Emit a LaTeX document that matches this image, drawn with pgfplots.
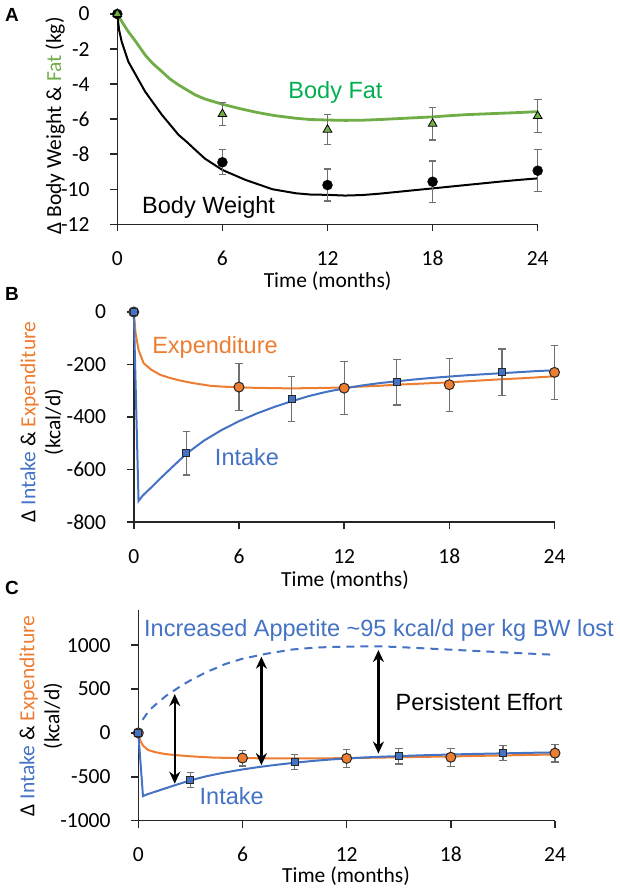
\documentclass[border=0pt]{standalone}
\usepackage{fontspec}
\setmainfont{Carlito}
\newfontfamily\arial{Liberation Sans}
\usepackage{pgfplots}
\pgfplotsset{compat=1.18}
\usetikzlibrary{arrows.meta}

\definecolor{xlblue}{HTML}{4472C4}
\definecolor{xlorange}{HTML}{ED7D31}
\definecolor{xlgreen}{HTML}{70AD47}
\definecolor{fatgreen}{HTML}{00B050}
\definecolor{errgray}{HTML}{707070}

\newcommand{\tickfont}{\fontsize{21.5}{25}\selectfont}
\newcommand{\notefont}{\arial\fontsize{23.5}{26}\selectfont}

\tikzset{effort/.style={{Stealth[length=12pt,width=11pt]}-{Stealth[length=12pt,width=11pt]}, line width=2.2pt}}

\pgfplotsset{
  panel/.style={
    scale only axis, clip=false,
    axis x line*=bottom, axis y line*=left,
    axis line style={line width=1.5pt, black!85, -},
    tick align=outside, major tick length=7pt,
    major tick style={line width=1.5pt, black!85},
    xmin=0, xmax=24, xtick={0,6,12,18,24},
    ticklabel style={font=\tickfont, inner sep=0pt},
    xticklabel style={anchor=base, yshift=-34pt},
    yticklabel style={anchor=east, xshift=-20.6pt},
    /pgf/number format/assume math mode=true,
    /pgf/number format/set thousands separator={},
  },
  errs/.style={
    error bars/.cd, y dir=both, y explicit,
    error bar style={line width=1.2pt, errgray},
    error mark options={rotate=90, mark size=3.8pt, line width=1.2pt, errgray},
  },
  wmark/.style={only marks, mark=*, mark size=5pt, mark options={fill=black, draw=black}},
  fmark/.style={only marks, mark=triangle*, mark size=5pt, mark options={fill=xlgreen, draw=black, line width=0.8pt}},
  emark/.style={only marks, mark=*, mark size=5pt, mark options={fill=xlorange, draw=black!85, line width=1pt}},
  imark/.style={only marks, mark=square*, mark size=3.5pt, mark options={fill=xlblue, draw=black!85, line width=1pt}},
}

\begin{document}
\begin{tikzpicture}
\useasboundingbox (0pt,0pt) rectangle (619pt,-891pt);

% ---------- A ----------
\begin{axis}[panel, at={(117.3pt,-224.3pt)}, anchor=south west,
  width=420.4pt, height=210.3pt, ymin=-12, ymax=0, ytick={-12,-10,...,0}]
\addplot[black, line width=2pt] coordinates {
 (0,0) (0.1,-0.9) (0.25,-1.58) (0.63,-2.72) (1,-3.38) (1.59,-4.43) (2,-5.0)
 (2.55,-5.76) (3,-6.3) (3.5,-6.9) (4,-7.33) (4.46,-7.76) (5,-8.25) (6,-8.9)
 (7.33,-9.47) (8.86,-10.0) (10.2,-10.23) (11,-10.3) (12,-10.32) (13,-10.36)
 (14,-10.33) (15,-10.25) (16,-10.15) (17,-10.05) (18,-9.95) (19,-9.85)
 (20,-9.75) (21,-9.65) (22,-9.55) (23,-9.46) (24,-9.38)};
\addplot[xlgreen, line width=2.8pt] coordinates {
 (0,0) (0.3,-0.5) (0.63,-1.01) (1,-1.5) (1.59,-2.34) (2,-2.8) (2.55,-3.29)
 (3,-3.7) (3.5,-4.05) (4,-4.35) (4.46,-4.62) (5,-4.85) (6,-5.15) (7,-5.4)
 (8,-5.62) (9,-5.8) (10.2,-5.95) (11,-6.02) (12,-6.05) (13,-6.07) (14,-6.06)
 (15,-6.02) (16,-5.97) (17,-5.92) (18,-5.87) (19,-5.8) (20,-5.74) (21,-5.7)
 (22,-5.66) (23,-5.62) (24,-5.57)};
\addplot[wmark, errs] coordinates {
 (0,0) +- (0,0) (6,-8.46) +- (0,0.72) (12,-9.76) +- (0,0.91)
 (18,-9.57) +- (0,1.18) (24,-8.94) +- (0,1.2)};
\addplot[fmark, errs] coordinates {
 (0,0) +- (0,0) (6,-5.71) +- (0,0.67) (12,-6.6) +- (0,0.85)
 (18,-6.26) +- (0,0.93) (24,-5.82) +- (0,0.92)};
\end{axis}

% ---------- B ----------
\begin{axis}[panel, at={(133.8pt,-522pt)}, anchor=south west,
  width=420.7pt, height=210pt, ymin=-800, ymax=0, ytick={-800,-600,...,0}]
\addplot[xlorange, line width=2pt] coordinates {
 (0,0) (0.1,-80) (0.27,-144) (0.56,-195) (1,-220) (1.5,-239) (2,-250)
 (2.45,-258) (3,-266) (3.4,-271) (4.35,-281) (5,-284) (6,-287) (7,-289)
 (8,-290) (9,-291) (10,-290) (11,-289) (12,-287) (13,-284) (14,-281)
 (15,-277) (16,-274) (17,-271) (18,-268) (19,-264) (20,-260) (21,-256)
 (22,-253) (23,-249) (24,-245)};
\addplot[xlblue, line width=2pt] coordinates {
 (0,0) (0.27,-720) (0.5,-700) (1,-668) (1.5,-635) (2,-603) (3,-540)
 (4,-490) (5,-450) (6,-416) (7,-387) (8,-362) (9,-340) (10,-320)
 (11,-304) (12,-291) (13,-280) (14,-271) (15,-264) (16,-257) (17,-251)
 (18,-246) (19,-241) (20,-237) (21,-233) (22,-229) (23,-225) (24,-222)};
\addplot[emark, errs] coordinates {
 (0,0) +- (0,0) (6,-286) +- (0,90) (12,-290) +- (0,100)
 (18,-277) +- (0,101) (24,-230) +- (0,102)};
\addplot[imark, errs] coordinates {
 (0,0) +- (0,0) (3,-538) +- (0,83) (9,-332) +- (0,86)
 (15,-267) +- (0,87) (21,-229) +- (0,88)};
\end{axis}

% ---------- C ----------
\begin{axis}[panel, at={(138.3pt,-820.7pt)}, anchor=south west,
  width=416.7pt, height=210.7pt, ymin=-1000, ymax=1400, ytick={-1000,-500,...,1000}]
\addplot[xlblue, line width=2pt, dash pattern=on 8pt off 6pt] coordinates {
 (0.25,150) (0.63,258) (1,323) (1.59,421) (2,475) (2.55,547) (3,598)
 (3.5,650) (4,700) (4.46,737) (5,784) (6,845) (7.33,900) (8.86,950)
 (10.2,972) (11,978) (12,982) (13,986) (14,985) (15,978) (16,968)
 (17,958) (18,948) (19,938) (20,928) (21,918) (22,908) (23,899) (24,890)};
\addplot[xlorange, line width=2pt] coordinates {
 (0,0) (0.1,-80) (0.27,-144) (0.56,-195) (1,-220) (1.5,-239) (2,-250)
 (2.45,-258) (3,-266) (3.4,-271) (4.35,-281) (5,-284) (6,-287) (7,-289)
 (8,-290) (9,-291) (10,-290) (11,-289) (12,-287) (13,-284) (14,-281)
 (15,-277) (16,-274) (17,-271) (18,-268) (19,-264) (20,-260) (21,-256)
 (22,-253) (23,-249) (24,-245)};
\addplot[xlblue, line width=2pt] coordinates {
 (0,0) (0.27,-720) (0.5,-700) (1,-668) (1.5,-635) (2,-603) (3,-540)
 (4,-490) (5,-450) (6,-416) (7,-387) (8,-362) (9,-340) (10,-320)
 (11,-304) (12,-291) (13,-280) (14,-271) (15,-264) (16,-257) (17,-251)
 (18,-246) (19,-241) (20,-237) (21,-233) (22,-229) (23,-225) (24,-222)};
\addplot[emark, errs] coordinates {
 (0,0) +- (0,0) (6,-286) +- (0,90) (12,-290) +- (0,100)
 (18,-277) +- (0,101) (24,-230) +- (0,102)};
\addplot[imark, errs] coordinates {
 (0,0) +- (0,0) (3,-538) +- (0,83) (9,-332) +- (0,86)
 (15,-267) +- (0,87) (21,-229) +- (0,88)};
\draw[effort] (axis cs:2.1,442) -- (axis cs:2.1,-578);
\draw[effort] (axis cs:7.09,868) -- (axis cs:7.09,-367);
\draw[effort] (axis cs:13.83,944) -- (axis cs:13.83,-235);
\end{axis}

% ---------- panel letters ----------
\begin{scope}[every node/.style={font=\arial\bfseries\fontsize{19}{20}\selectfont, inner sep=0pt}]
\node at (12pt,-15pt) {A};
\node at (12pt,-294pt) {B};
\node at (12pt,-588pt) {C};
\end{scope}

% ---------- axis titles ----------
\begin{scope}[every node/.style={font=\tickfont, inner sep=0pt}]
\node[rotate=90] at (55pt,-126pt) {Δ Body Weight \& \textcolor{xlgreen}{Fat} (kg)};
\node at (327.6pt,-281pt) {Time (months)};
\node[rotate=90, align=center] at (42pt,-422pt)
  {Δ \textcolor{xlblue}{Intake} \& \textcolor{xlorange}{Expenditure}\\(kcal/d)};
\node at (345pt,-580pt) {Time (months)};
\node[rotate=90, align=center] at (41pt,-716pt)
  {Δ \textcolor{xlblue}{Intake} \& \textcolor{xlorange}{Expenditure}\\(kcal/d)};
\node at (346pt,-876.5pt) {Time (months)};
\end{scope}

% ---------- annotations ----------
\begin{scope}[every node/.style={font=\notefont, inner sep=0pt, anchor=base}]
\node[text=fatgreen] at (335.5pt,-98.3pt) {Body Fat};
\node at (208.6pt,-213.3pt) {Body Weight};
\node[text=xlorange] at (215pt,-353.3pt) {Expenditure};
\node[text=xlblue] at (247pt,-465.7pt) {Intake};
\node[text=xlblue] at (379pt,-636pt) {Increased Appetite \textasciitilde95 kcal/d per kg BW lost};
\node at (479pt,-710pt) {Persistent Effort};
\node[text=xlblue] at (231.7pt,-804pt) {Intake};
\end{scope}
\end{tikzpicture}
\end{document}
